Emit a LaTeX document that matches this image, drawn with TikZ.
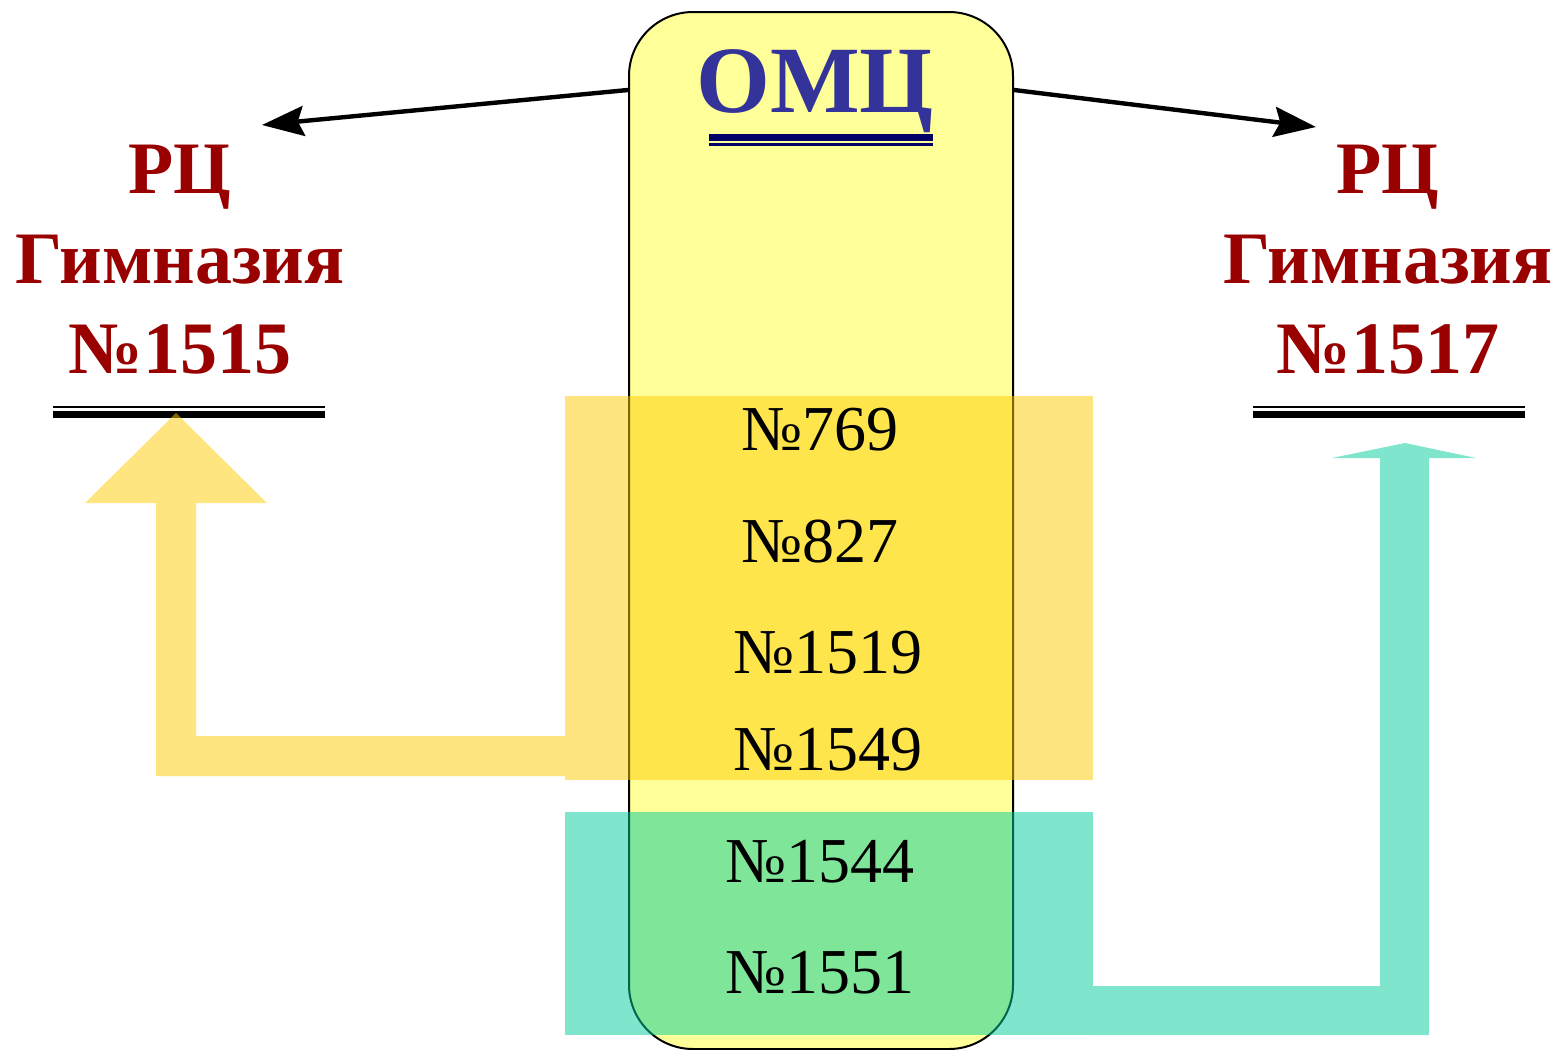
\documentclass[tikz,border=0pt]{standalone}
\usepackage{fontspec}
\setmainfont{Liberation Serif}
\usetikzlibrary{arrows.meta}
\usetikzlibrary{positioning}
\definecolor{boxyellow}{HTML}{FFFF99}
\definecolor{bandgold}{HTML}{FFCC00}
\definecolor{bandteal}{HTML}{00CC99}
\definecolor{titleblue}{HTML}{333399}
\definecolor{linenavy}{HTML}{000066}
\definecolor{rcred}{HTML}{990000}
\tikzset{omc box/.style={
          draw, line width=1pt, fill=boxyellow,
          rounded corners=32pt,
          minimum width=192pt, minimum height=518.5pt, inner sep=0pt
          },
        rc label/.style={
          text=rcred, font=\fontsize{37}{45}\selectfont\bfseries,
          align=center, anchor=base, inner sep=0pt
          },
        school/.style={font=\fontsize{32}{32}\selectfont, anchor=base, inner sep=0pt},
        band gold/.style={fill=bandgold, fill opacity=0.5},
        band teal/.style={fill=bandteal, fill opacity=0.5},
        link/.style={line width=2.2pt, -{Stealth[length=21pt, width=15pt, inset=3pt]}},
}

\begin{document}
\begin{tikzpicture}[x=0.5pt, y=-0.5pt]
  \useasboundingbox (0,0) rectangle (1559,1050);
  % OMC box
  \node[omc box] (omc) at (821,530.5) {};
  \node[text=titleblue, font=\fontsize{47.5}{47.5}\selectfont\bfseries, anchor=base, inner sep=0pt] (title) at (815,112) {ОМЦ};
  \fill[linenavy] (709,134) rectangle (933,141);
  \fill[linenavy] (709,143) rectangle (933,146);

  % RC labels (base = last line)
  \node[rc label] (rc1515) at (180,373) {РЦ\\Гимназия\\№1515};
  \node[rc label] (rc1517) at (1388,373) {РЦ\\Гимназия\\№1517};
  \fill (53,406) rectangle (325,408);
  \fill (53,411) rectangle (325,418);
  \fill (1253,406) rectangle (1525,408);
  \fill (1253,411) rectangle (1525,418);

  % links from OMC
  \coordinate (tip1515) at (262,125);
  \coordinate (tip1517) at (1316,127);
  \draw[link] ([yshift=-39.5pt]omc.north west) -- (tip1515);
  \draw[link] ([yshift=-39.5pt]omc.north east) -- (tip1517);

  % groups and big arrows
  \fill[band gold] (565,396) rectangle (1093,780);
  \fill[band gold] (565,736) -- (196,736) -- (196,503) -- (267,503) -- (176,413)
    -- (85,503) -- (156,503) -- (156,776) -- (565,776) -- cycle;
  \fill[band teal] (565,812) rectangle (1093,1035);
  \fill[band teal] (1093,986) -- (1380,986) -- (1380,458) -- (1332,458) -- (1405,443)
    -- (1476,458) -- (1429,458) -- (1429,1035) -- (1093,1035) -- cycle;

  % schools
  \foreach \num/\x/\y in {769/820/450, 827/820/562, 1519/828/673, 1549/828/770, 1544/820/882, 1551/820/993}
    \node[school] (s\num) at (\x,\y) {№\num};
\end{tikzpicture}
\end{document}
